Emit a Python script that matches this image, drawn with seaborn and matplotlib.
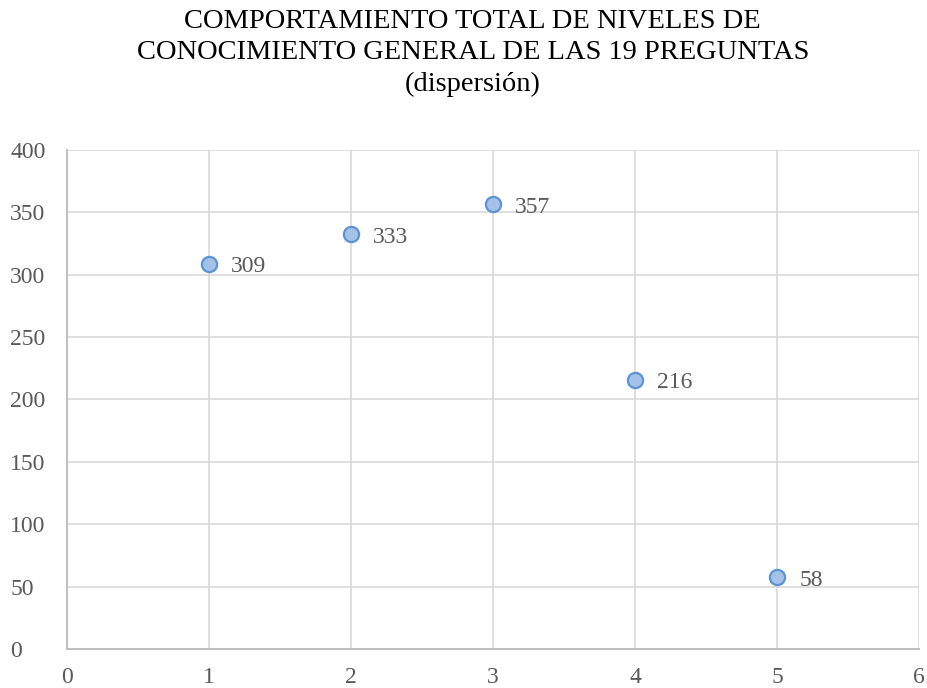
import matplotlib
matplotlib.use("Agg")
import matplotlib.pyplot as plt
import seaborn as sns
import pandas as pd

niveles = [1, 2, 3, 4, 5]
totales = [309, 333, 357, 216, 58]
x_ticks = [0, 1, 2, 3, 4, 5, 6]
y_ticks = [0, 50, 100, 150, 200, 250, 300, 350, 400]
titulo = "COMPORTAMIENTO TOTAL DE NIVELES DE\nCONOCIMIENTO GENERAL DE LAS 19 PREGUNTAS\n(dispersión)"

sns.set_theme(style="white")
plt.rcParams["font.family"] = ["Liberation Serif", "DejaVu Serif"]

df = pd.DataFrame({"nivel": niveles, "total": totales})

fig = plt.figure(figsize=(9.27, 6.88), dpi=100)
ax = fig.add_axes([0.0723, 0.0567, 0.9191, 0.7253])

sns.scatterplot(data=df, x="nivel", y="total", ax=ax, s=120,
                color="#a4c2e8", edgecolor="#5b93d3", linewidth=1.6, zorder=3, legend=False)

for xv, yv in zip(niveles, totales):
    ax.annotate(str(yv), (xv, yv), xytext=(16, -2.5), textcoords="offset points",
                fontsize=17, color="#595959", va="center", ha="left")

ax.set_xlim(0, 6)
ax.set_ylim(0, 400)
ax.set_xticks(x_ticks)
ax.set_yticks(y_ticks)
ax.grid(True, color="#d9d9d9", linewidth=1.2)
ax.set_axisbelow(True)
for side in ["top", "right"]:
    ax.spines[side].set_visible(False)
for side in ["left", "bottom"]:
    ax.spines[side].set_color("#bfbfbf")
    ax.spines[side].set_linewidth(1.4)
ax.tick_params(axis="both", length=0, labelsize=17, labelcolor="#595959")
ax.tick_params(axis="x", pad=13)
ax.tick_params(axis="y", pad=41)
ax.set_xlabel("")
ax.set_ylabel("")
for lbl in ax.get_yticklabels():
    lbl.set_horizontalalignment("left")

fig.text(0.51, 0.987, titulo, ha="center", va="top", fontsize=20.5, color="#000000",
         linespacing=1.33)

fig.savefig("out.png", dpi=100)
